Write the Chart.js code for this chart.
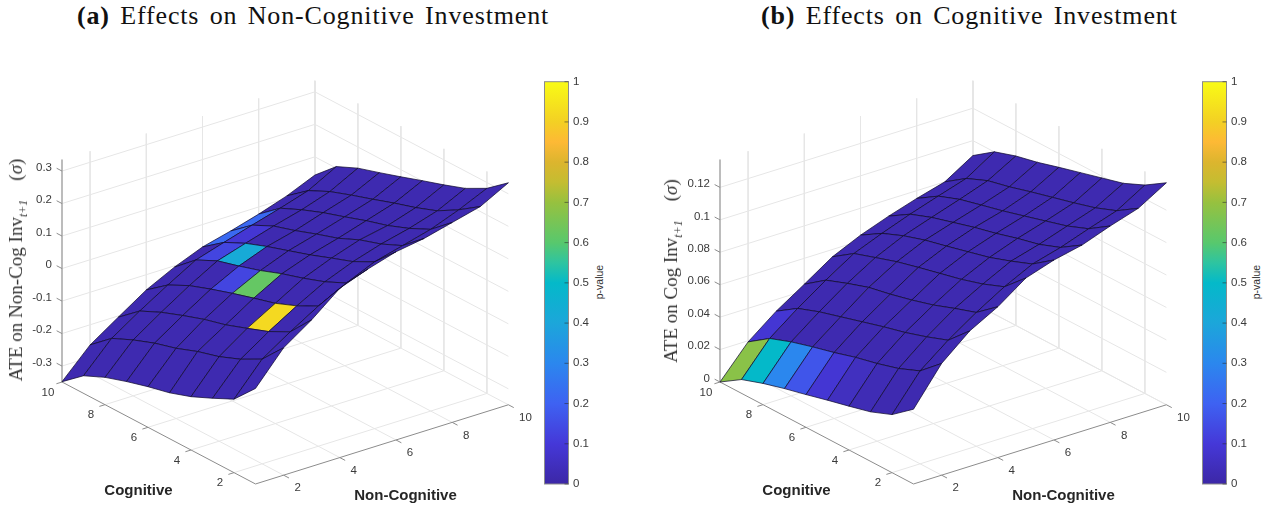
<!DOCTYPE html>
<html>
<head>
<meta charset="utf-8">
<script src="https://cdn.jsdelivr.net/npm/chart.js@4/dist/chart.umd.min.js"></script>
<style>
html, body { margin:0; padding:0; background:#fff; width:1276px; height:510px; overflow:hidden; }
canvas { position:absolute; top:0; filter:blur(0.3px); }
.title { position:absolute; top:1px; font-family:"Liberation Serif",serif; font-size:26px; letter-spacing:0.85px; word-spacing:3px; color:#111; white-space:nowrap; }
.zlab { position:absolute; font-family:"Liberation Serif",serif; font-size:19px; color:#333; white-space:nowrap; transform:translate(-50%,-50%) rotate(-90deg); z-index:2; }
.zlab sub { font-size:12px; font-style:italic; line-height:0; }
.plab { position:absolute; top:282px; font-family:"Liberation Sans",sans-serif; font-size:10.5px; color:#333; white-space:nowrap; transform:translate(-50%,-50%) rotate(-90deg); z-index:2; }
</style>
</head>
<body>
<div class="title" style="left:77px"><b>(a)</b> Effects on Non-Cognitive Investment</div>
<div class="title" style="left:761px"><b>(b)</b> Effects on Cognitive Investment</div>
<div class="zlab" style="left:16px;top:270px">ATE on Non-Cog Inv<sub>t+1</sub> &nbsp;&nbsp;&nbsp;(<i>σ</i>)</div>
<div class="zlab" style="left:671px;top:271px">ATE on Cog Inv<sub>t+1</sub> &nbsp;&nbsp;&nbsp;(<i>σ</i>)</div>
<div class="plab" style="left:599px">p-value</div>
<div class="plab" style="left:1256px">p-value</div>

<canvas id="surfaceA" width="540" height="510" style="left:0"></canvas>
<canvas id="surfaceB" width="540" height="510" style="left:658px"></canvas>
<canvas id="barA" width="60" height="430" style="left:530px;top:70px"></canvas>
<canvas id="barB" width="60" height="430" style="left:1187.5px;top:70px"></canvas>

<script>
let cognitive = [10, 9, 8, 7, 6, 5, 4, 3, 2, 1];
let nonCognitive = [1, 2, 3, 4, 5, 6, 7, 8, 9, 10];
let gridTicks = [2, 4, 6, 8, 10];
let zTicksA = [-0.3, -0.2, -0.1, 0, 0.1, 0.2, 0.3];
let zTicksB = [0, 0.02, 0.04, 0.06, 0.08, 0.1, 0.12];
let pTicks = [0, 0.1, 0.2, 0.3, 0.4, 0.5, 0.6, 0.7, 0.8, 0.9, 1];
let zRangeA = [-0.349, 0.334];
let zRangeB = [0, 0.1369];

// one row per non-cognitive level, columns follow the cognitive array
let ateA = [
    [-0.348, -0.295, -0.265, -0.243, -0.224, -0.208, -0.185, -0.155, -0.123, -0.055],
    [-0.262, -0.207, -0.177, -0.152, -0.133, -0.108, -0.089, -0.062, -0.027, 0.043],
    [-0.204, -0.150, -0.119, -0.094, -0.071, -0.053, -0.029, -0.004, 0.030, 0.102],
    [-0.147, -0.097, -0.064, -0.040, -0.018, 0.002, 0.021, 0.048, 0.082, 0.172],
    [-0.104, -0.047, -0.015, 0.004, 0.025, 0.050, 0.071, 0.095, 0.126, 0.204],
    [-0.069, -0.020, 0.012, 0.037, 0.059, 0.081, 0.106, 0.130, 0.164, 0.230],
    [-0.047, 0.006, 0.038, 0.059, 0.083, 0.105, 0.135, 0.157, 0.187, 0.244],
    [-0.022, 0.031, 0.061, 0.087, 0.109, 0.132, 0.152, 0.178, 0.210, 0.266],
    [0.007, 0.058, 0.090, 0.114, 0.136, 0.159, 0.180, 0.205, 0.243, 0.288],
    [0.044, 0.105, 0.135, 0.156, 0.178, 0.201, 0.223, 0.247, 0.282, 0.334]
];
let ateB = [
    [0.0000, 0.0085, 0.0131, 0.0169, 0.0202, 0.0237, 0.0270, 0.0305, 0.0358, 0.0461],
    [0.0193, 0.0284, 0.0333, 0.0372, 0.0407, 0.0447, 0.0479, 0.0518, 0.0573, 0.0689],
    [0.0328, 0.0415, 0.0464, 0.0503, 0.0542, 0.0581, 0.0616, 0.0659, 0.0708, 0.0835],
    [0.0440, 0.0535, 0.0585, 0.0630, 0.0658, 0.0692, 0.0731, 0.0780, 0.0825, 0.0930],
    [0.0555, 0.0645, 0.0690, 0.0734, 0.0769, 0.0802, 0.0835, 0.0876, 0.0929, 0.1053],
    [0.0634, 0.0715, 0.0770, 0.0813, 0.0846, 0.0881, 0.0916, 0.0963, 0.1015, 0.1110],
    [0.0697, 0.0779, 0.0829, 0.0868, 0.0907, 0.0940, 0.0979, 0.1012, 0.1063, 0.1148],
    [0.0752, 0.0836, 0.0886, 0.0921, 0.0955, 0.0993, 0.1032, 0.1071, 0.1124, 0.1211],
    [0.0800, 0.0891, 0.0947, 0.0979, 0.1018, 0.1054, 0.1090, 0.1129, 0.1181, 0.1266],
    [0.0908, 0.1001, 0.1045, 0.1076, 0.1115, 0.1152, 0.1189, 0.1226, 0.1285, 0.1369]
];
// p-value of each cell, same layout with one row and one column less
let pA = [
    [0.02, 0.02, 0.02, 0.02, 0.02, 0.02, 0.02, 0.02, 0.02],
    [0.02, 0.02, 0.02, 0.02, 0.02, 0.02, 0.02, 0.02, 0.02],
    [0.02, 0.02, 0.02, 0.02, 0.02, 0.02, 0.92, 0.02, 0.02],
    [0.02, 0.02, 0.02, 0.13, 0.62, 0.02, 0.02, 0.02, 0.02],
    [0.02, 0.13, 0.42, 0.02, 0.02, 0.02, 0.02, 0.02, 0.02],
    [0.22, 0.09, 0.02, 0.02, 0.02, 0.02, 0.02, 0.02, 0.02],
    [0.22, 0.02, 0.02, 0.02, 0.02, 0.02, 0.02, 0.02, 0.02],
    [0.02, 0.02, 0.02, 0.02, 0.02, 0.02, 0.02, 0.02, 0.02],
    [0.02, 0.02, 0.02, 0.02, 0.02, 0.02, 0.02, 0.02, 0.02]
];
let pB = [
    [0.68, 0.50, 0.30, 0.17, 0.09, 0.05, 0.03, 0.02, 0.02],
    [0.09, 0.02, 0.02, 0.02, 0.02, 0.02, 0.02, 0.02, 0.02],
    [0.02, 0.02, 0.02, 0.02, 0.02, 0.02, 0.02, 0.02, 0.02],
    [0.02, 0.02, 0.02, 0.02, 0.02, 0.02, 0.02, 0.02, 0.02],
    [0.02, 0.02, 0.02, 0.02, 0.02, 0.02, 0.02, 0.02, 0.02],
    [0.02, 0.02, 0.02, 0.02, 0.02, 0.02, 0.02, 0.02, 0.02],
    [0.02, 0.02, 0.02, 0.02, 0.02, 0.02, 0.02, 0.02, 0.02],
    [0.02, 0.02, 0.02, 0.02, 0.02, 0.02, 0.02, 0.02, 0.02],
    [0.02, 0.02, 0.02, 0.02, 0.02, 0.02, 0.02, 0.02, 0.02]
];
let mapValues = [0, 0.1, 0.2, 0.3, 0.4, 0.5, 0.55, 0.6, 0.7, 0.75, 0.8, 0.85, 0.9, 1];
let mapColors = ['#3c27a6', '#4538d8', '#3e62f2', '#2b87ee', '#1ca6da', '#04b9c9', '#2ec4a0', '#58c86d', '#97c13f', '#c4bd31', '#dcb52e', '#fdb935', '#f3d024', '#f9fb15'];

const fontTick = '11.5px "Liberation Sans"';
const fontAxis = 'bold 15px "Liberation Sans"';
const wallColor = '#e6e6e6';
const axisColor = '#8c8c8c';

function hexRgb(h){
    return [1, 3, 5].map(k => parseInt(h.substr(k, 2), 16));
}

function colorFor(p){
    let k = 0;
    while(k < mapValues.length - 2 && p > mapValues[k + 1]) k++;
    let t = (p - mapValues[k]) / (mapValues[k + 1] - mapValues[k]);
    let a = hexRgb(mapColors[k]), b = hexRgb(mapColors[k + 1]);
    return 'rgb(' + a.map((v, n) => Math.round(v + (b[n] - v) * t)).join(',') + ')';
}

// fixed MATLAB-style view: c runs 10->1 towards the viewer, nc runs 1->10 away from it
function makeView(zRange){
    return function(c, nc, z){
        return {
            x : 62 + 21.5 * (10 - c) + 28.1 * (nc - 1),
            y : 382 + 11.33 * (10 - c) - 8.8 * (nc - 1) - (z - zRange[0]) / (zRange[1] - zRange[0]) * 222
        };
    };
}

function lineSet(points, color, width){
    return {
        data : points,
        showLine : true,
        borderColor : color,
        borderWidth : width,
        pointRadius : 0,
        fill : false,
        clip : false
    };
}

function buildDatasets(view, zRange, zTicks, ate, p){
    let back = [];
    let zLo = zRange[0], zHi = zRange[1];
    // walls and floor
    zTicks.forEach(z => {
        back.push(lineSet([view(10, 1, z), view(10, 10, z), view(1, 10, z)], wallColor, 1));
    });
    gridTicks.forEach(t => {
        back.push(lineSet([view(10, t, zHi), view(10, t, zLo), view(1, t, zLo)], wallColor, 1));
        back.push(lineSet([view(t, 10, zHi), view(t, 10, zLo), view(t, 1, zLo)], wallColor, 1));
    });
    // axes and their tick marks
    back.push(lineSet([view(10, 1, zHi), view(10, 1, zLo)], '#a0a0a0', 1.4));
    back.push(lineSet([view(10, 1, zLo), view(1, 1, zLo), view(1, 10, zLo)], axisColor, 1));
    zTicks.forEach(z => back.push(lineSet([view(10, 1, z), view(10.25, 1, z)], axisColor, 1)));
    gridTicks.forEach(t => {
        back.push(lineSet([view(t, 1, zLo), view(t, 0.8, zLo)], axisColor, 1));
        back.push(lineSet([view(1, t, zLo), view(0.75, t, zLo)], axisColor, 1));
    });
    // surface cells, far ones first
    for(let j = nonCognitive.length - 2; j >= 0; j--){
        for(let i = 0; i < cognitive.length - 1; i++){
            let cell = [
                view(cognitive[i], nonCognitive[j], ate[j][i]),
                view(cognitive[i + 1], nonCognitive[j], ate[j][i + 1]),
                view(cognitive[i + 1], nonCognitive[j + 1], ate[j + 1][i + 1]),
                view(cognitive[i], nonCognitive[j + 1], ate[j + 1][i])
            ];
            cell.push(cell[0]);
            let set = lineSet(cell, 'rgba(15,10,45,0.9)', 0.8);
            set.fill = 'shape';
            set.backgroundColor = colorFor(p[j][i]);
            back.push(set);
        }
    }
    // chart.js paints the last dataset first
    return back.reverse();
}

function axisTextPlugin(view, zRange, zTicks){
    return {
        id : 'axisText',
        afterDraw(chart){
            let ctx = chart.ctx;
            let sx = chart.scales.x, sy = chart.scales.y;
            let put = (pt, dx, dy, text, align) => {
                ctx.textAlign = align;
                ctx.fillText(text, sx.getPixelForValue(pt.x) + dx, sy.getPixelForValue(pt.y) + dy);
            };
            ctx.save();
            ctx.textBaseline = 'middle';
            ctx.fillStyle = '#3a3a3a';
            ctx.font = fontTick;
            zTicks.forEach(z => put(view(10, 1, z), -10, -3.5, String(z), 'right'));
            gridTicks.forEach(t => {
                put(view(t, 1, zRange[0]), -14, 10.5, String(t), 'center');
                put(view(1, t, zRange[0]), t == 10 ? 17 : 14, 13, String(t), 'center');
            });
            ctx.font = fontAxis;
            ctx.fillStyle = '#262626';
            put(view(1, 1, zRange[0]), -117, 6.5, 'Cognitive', 'center');
            put(view(1, 1, zRange[0]), 150, 11.5, 'Non-Cognitive', 'center');
            ctx.restore();
        }
    };
}

function surfaceChart(id, zRange, zTicks, ate, p){
    let view = makeView(zRange);
    return new Chart(document.getElementById(id), {
        type : 'scatter',
        data : { datasets : buildDatasets(view, zRange, zTicks, ate, p) },
        options : {
            responsive : false,
            animation : false,
            events : [],
            layout : { padding : 0 },
            elements : { line : { tension : 0, borderJoinStyle : 'round' } },
            plugins : { legend : { display : false }, tooltip : { enabled : false } },
            scales : {
                x : { type : 'linear', min : 0, max : 540, display : false },
                y : { type : 'linear', min : 0, max : 510, reverse : true, display : false }
            }
        },
        plugins : [axisTextPlugin(view, zRange, zTicks)]
    });
}

let barFrame = {
    id : 'barFrame',
    afterDatasetsDraw(chart){
        let ctx = chart.ctx, a = chart.chartArea, s = chart.scales.y;
        ctx.save();
        ctx.strokeStyle = '#8c8c8c';
        ctx.lineWidth = 1;
        ctx.strokeRect(a.left, a.top, a.right - a.left, a.bottom - a.top);
        ctx.strokeStyle = 'rgba(40,40,40,0.55)';
        pTicks.forEach(v => {
            let y = s.getPixelForValue(v);
            ctx.beginPath();
            ctx.moveTo(a.right - 4, y);
            ctx.lineTo(a.right, y);
            ctx.stroke();
        });
        ctx.restore();
    }
};

function colorBar(id){
    return new Chart(document.getElementById(id), {
        type : 'bar',
        data : {
            labels : ['p-value'],
            datasets : [{
                data : [[pTicks[0], pTicks[pTicks.length - 1]]],
                barPercentage : 1,
                categoryPercentage : 1,
                backgroundColor : function(c){
                    let a = c.chart.chartArea;
                    if(!a) return mapColors[0];
                    let g = c.chart.ctx.createLinearGradient(0, a.bottom, 0, a.top);
                    mapValues.forEach((v, k) => g.addColorStop(v, mapColors[k]));
                    return g;
                }
            }]
        },
        options : {
            responsive : false,
            animation : false,
            events : [],
            layout : { padding : { left : 14.5, top : 11.7, bottom : 16, right : 0 } },
            plugins : { legend : { display : false }, tooltip : { enabled : false } },
            scales : {
                x : { display : false },
                y : {
                    position : 'right',
                    min : 0,
                    max : 1,
                    afterFit : s => { s.width = 21.5; },
                    afterBuildTicks : s => { s.ticks = pTicks.map(v => ({ value : v })); },
                    grid : { display : false, drawTicks : false },
                    border : { display : false },
                    ticks : {
                        padding : 4.5,
                        color : '#3a3a3a',
                        font : { family : 'Liberation Sans', size : 11.5 },
                        callback : v => String(v)
                    }
                }
            }
        },
        plugins : [barFrame]
    });
}

let chart1 = surfaceChart('surfaceA', zRangeA, zTicksA, ateA, pA);
let chart2 = surfaceChart('surfaceB', zRangeB, zTicksB, ateB, pB);
let bar1 = colorBar('barA');
let bar2 = colorBar('barB');
</script>
</body>
</html>
